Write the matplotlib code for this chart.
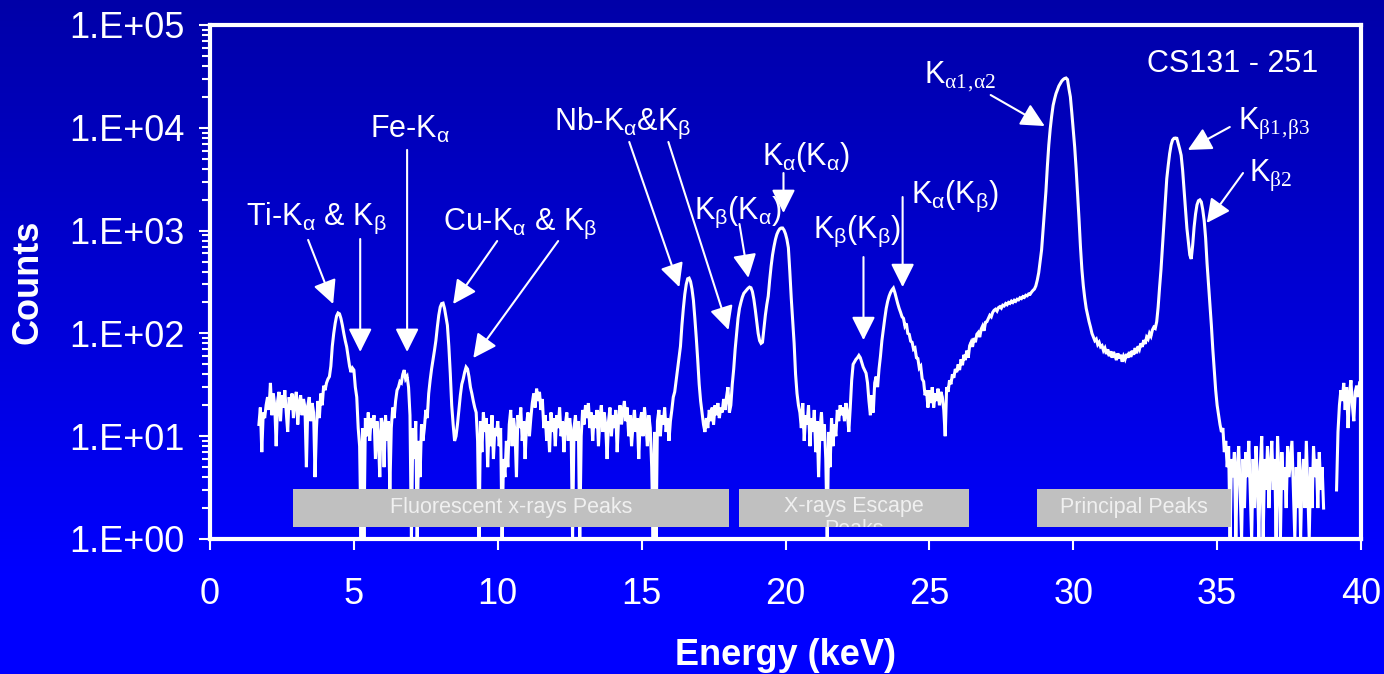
import numpy as np
import matplotlib
matplotlib.use('Agg')
import matplotlib.pyplot as plt
from matplotlib.patches import Rectangle
from matplotlib.ticker import FixedLocator, FuncFormatter, LogLocator, NullFormatter, NullLocator

plt.rcParams['font.family'] = ['Liberation Sans', 'DejaVu Sans']
plt.rcParams['mathtext.fontset'] = 'custom'
plt.rcParams['mathtext.rm'] = 'Liberation Sans'
plt.rcParams['mathtext.sf'] = 'Liberation Serif'
plt.rcParams['mathtext.it'] = 'Liberation Sans:italic'
plt.rcParams['mathtext.bf'] = 'Liberation Sans:bold'

nan = np.nan

# ---------------- data ----------------
energy_start = 1.70   # keV
energy_step = 0.05    # keV per channel
counts = [
    13, 19, 7, 17, 15, 20,                                                                    # 1.70-1.95
    24, 18, 33, 16, 26, 20, 8, 22, 27, 14, 25, 19, 28, 17, 11, 24, 18, 26, 15, 22,             # 2
    27, 13, 21, 25, 16, 23, 19, 5, 20, 24, 14, 21, 17, 4, 12, 22, 15, 26, 20, 31,              # 3
    28, 33, 36, 38, 48, 75, 100, 125, 148, 158, 155, 140, 120, 100, 85, 74, 60, 48, 42, 46,    # 4
    44, 30, 24, 12, 8, 1, 12, 1, 15, 10, 17, 9, 15, 12, 16, 6, 14, 10, 4, 15,                  # 5
    13, 5, 16, 9, 14, 3, 12, 19, 15, 22, 28, 30, 34, 33, 40, 44, 36, 38, 30, 16,               # 6
    1, 12, 6, 14, 1, 9, 4, 13, 9, 12, 18, 15, 26, 35, 45, 55, 68, 85, 115, 150,               # 7
    180, 195, 197, 175, 145, 120, 75, 41, 20, 13, 9, 10, 13, 18, 25, 32, 36, 42, 47, 45,       # 8
    38, 30, 26, 22, 19, 17, 9, 1, 14, 7, 17, 11, 15, 5, 13, 8, 16, 6, 12, 10,                  # 9
    14, 8, 12, 1, 6, 4, 9, 5, 13, 18, 8, 15, 11, 4, 16, 12, 19, 9, 14, 6,                      # 10
    13, 17, 10, 15, 21, 26, 19, 29, 22, 27, 18, 23, 12, 16, 9, 14, 7, 17, 11, 15,              # 11
    8, 16, 12, 19, 10, 14, 7, 13, 17, 9, 15, 11, 1, 12, 16, 9, 14, 1, 10, 18,                  # 12
    13, 20, 15, 21, 12, 17, 9, 16, 12, 18, 8, 15, 20, 11, 17, 13, 6, 14, 19, 10,               # 13
    16, 12, 18, 7, 15, 20, 13, 17, 22, 14, 19, 10, 16, 8, 13, 18, 11, 15, 6, 14,               # 14
    17, 10, 19, 13, 8, 16, 12, 5, 1, 11, 1, 14, 18, 10, 16, 13, 19, 11, 15, 9,                 # 15
    14, 18, 24, 27, 35, 45, 58, 75, 120, 175, 240, 300, 340, 345, 320, 270, 210, 140, 90, 55,  # 16
    32, 22, 17, 13, 11, 15, 12, 18, 14, 19, 13, 20, 16, 21, 15, 19, 17, 23, 18, 24,            # 17
    30, 17, 20, 32, 45, 70, 100, 140, 175, 200, 225, 245, 255, 265, 275, 282, 278, 255, 215, 170,  # 18
    130, 100, 85, 80, 82, 110, 150, 190, 230, 330, 450, 580, 700, 820, 920, 990, 1040, 1060, 1060, 1010,  # 19
    930, 820, 680, 400, 220, 130, 80, 40, 26, 20, 17, 12, 21, 9, 16, 13, 20, 8, 15, 11,        # 20
    18, 7, 14, 4, 12, 17, 9, 13, 6, 1, 11, 5, 15, 8, 13, 10, 18, 14, 20, 16,                   # 21
    19, 14, 21, 17, 11, 19, 35, 50, 53, 56, 58, 61, 58, 52, 47, 44, 41, 33, 22, 16,            # 22
    25, 17, 33, 38, 30, 45, 60, 85, 110, 140, 175, 205, 230, 250, 265, 276, 250, 220, 195, 175,  # 23
    160, 145, 140, 118, 125, 100, 98, 84, 82, 70, 72, 58, 57, 46, 48, 36, 34, 25, 28, 19,      # 24
    28, 21, 30, 19, 26, 22, 29, 20, 27, 24, 18, 10, 30, 27, 35, 32, 40, 37, 45, 42,            # 25
    50, 44, 56, 49, 62, 55, 68, 58, 76, 82, 74, 90, 82, 98, 102, 92, 110, 118, 106, 128,       # 26
    130, 140, 150, 145, 160, 168, 172, 165, 178, 182, 176, 188, 185, 195, 190, 200, 196, 206, 200, 210,  # 27
    205, 215, 212, 222, 218, 228, 224, 235, 232, 242, 240, 252, 262, 270, 290, 330, 390, 500, 650, 1000,  # 28
    1500, 2400, 4200, 6800, 9800, 13000, 16500, 19000, 21500, 23500, 25500, 27000, 28500, 29500, 30200, 30500, 29500, 24000, 20000, 14000,  # 29
    9500, 6500, 4000, 2300, 1300, 700, 420, 290, 220, 175, 150, 130, 115, 100, 92, 85, 88, 78, 82, 74,  # 30
    76, 68, 72, 63, 70, 60, 67, 58, 66, 61, 55, 64, 57, 62, 53, 60, 56, 63, 58, 66,            # 31
    59, 68, 62, 72, 64, 75, 70, 80, 74, 86, 79, 92, 88, 100, 94, 108, 115, 112, 130, 180,      # 32
    280, 420, 700, 1150, 2000, 3200, 4300, 5600, 6800, 7600, 7900, 7950, 7900, 7000, 6200, 5400, 3900, 2500, 1600, 1050,  # 33
    780, 580, 530, 720, 1080, 1450, 1780, 1950, 1990, 1900, 1600, 1250, 850, 480, 300, 190, 120, 70, 45, 28,  # 34
    20, 16, 13, 11, 12, 7, 9, 5, 8, 1, 6, 4, 7, 1, 5, 8, 3, 1, 6, 2,                           # 35
    7, 4, 9, 3, 1, 6, 2, 8, 4, 1, 5, 10, 1, 6, 3, 8, 2, 5, 9, 3,                               # 36
    6, 1, 10, 4, 1, 7, 3, 5, 2, 8, 4, 6, 9, 3, 1, 5, 2, 7, 1, 4,                               # 37
    6, 2, 9, 3, 1, 5, 2, 8, 4, 6, 2, 7, 3, 5, 2, nan, nan, nan, nan, nan,                      # 38
    nan, nan, nan, 3, 11, 20, 28, 22, 33, 18, 30, 12, 26, 35, 20, 14, 27, 31, 24, 33,          # 39
]
energy = energy_start + energy_step * np.arange(len(counts))

region_names = ['Fluorescent x-rays Peaks', 'X-rays Escape\nPeaks', 'Principal Peaks']
region_ranges = [(2.89, 18.05), (18.37, 26.37), (28.73, 35.48)]
region_text_y = [1.79, 1.09, 1.79]   # baseline of the last text line

# label text, text anchor (E, counts), list of arrows (tail E, tail c, tip E, tip c)
peak_labels = [
    (r'Ti-K$_{\mathrm{α}}$ & K$_{\mathrm{β}}$', (1.25, 1133),
     [(3.41, 811, 4.28, 193), (5.22, 829, 5.22, 66)]),
    (r'Fe-K$_{\mathrm{α}}$', (5.57, 7960), [(6.85, 6090, 6.85, 66)]),
    (r'Cu-K$_{\mathrm{α}}$ & K$_{\mathrm{β}}$', (8.10, 1013),
     [(9.98, 792, 8.45, 193), (12.10, 792, 9.15, 57.6)]),
    (r'Nb-K$_{\mathrm{α}}$&K$_{\mathrm{β}}$', (11.97, 9520),
     [(14.57, 7280, 16.31, 282), (15.93, 7280, 18.02, 108)]),
    (r'K$_{\mathrm{β}}$(K$_{\mathrm{α}}$)', (16.83, 1297), [(18.40, 1159, 18.71, 347)]),
    (r'K$_{\mathrm{α}}$(K$_{\mathrm{α}}$)', (19.17, 4345), [(19.93, 3632, 19.93, 1483)]),
    (r'K$_{\mathrm{β}}$(K$_{\mathrm{β}}$)', (20.94, 847), [(22.71, 553, 22.71, 86)]),
    (r'K$_{\mathrm{α}}$(K$_{\mathrm{β}}$)', (24.35, 1855), [(24.07, 2122, 24.07, 282)]),
    (r'K$_{\mathsf{α1‚α2}}$', (24.80, 27900), [(27.13, 20840, 29.01, 10400)]),
    (r'K$_{\mathsf{β1‚β3}}$', (35.72, 9520), [(35.44, 10180, 33.98, 6090)]),
    (r'K$_{\mathsf{β2}}$', (36.10, 2970), [(35.90, 3632, 34.64, 1186)]),
]
sample_name = 'CS131 - 251'

# ---------------- figure ----------------
W, H = 1384, 674
fig = plt.figure(figsize=(W / 100, H / 100), dpi=100)

# blue vertical gradient background
bg = fig.add_axes([0, 0, 1, 1], zorder=-10)
t = np.linspace(0, 1, 256)[:, None]
blue = np.clip(168 + (255 - 168) * t / 0.85, 0, 255) / 255.0
grad = np.zeros((256, 2, 3))
grad[:, :, 2] = blue
bg.imshow(grad, aspect='auto', extent=[0, 1, 0, 1], origin='upper')
bg.set_axis_off()

ax = fig.add_axes([210 / W, (H - 539) / H, 1151 / W, 514 / H])
ax.set_facecolor('none')
ax.plot(energy, counts, color='white', lw=2.2, zorder=2, solid_joinstyle='miter')
ax.set_yscale('log')
ax.set_xlim(0, 40)
ax.set_ylim(1, 1e5)

for s in ax.spines.values():
    s.set_color('white')
    s.set_linewidth(3)

ax.set_xticks(np.arange(0, 41, 5))
ax.xaxis.set_minor_locator(NullLocator())
ax.yaxis.set_major_locator(FixedLocator([1e0, 1e1, 1e2, 1e3, 1e4, 1e5]))
ax.yaxis.set_minor_locator(LogLocator(base=10, subs=np.arange(2, 10)))
ax.yaxis.set_minor_formatter(NullFormatter())
ax.yaxis.set_major_formatter(FuncFormatter(lambda v, p: '1.E+%02d' % int(round(np.log10(v)))))
ax.tick_params(axis='both', which='both', direction='out', colors='white', labelsize=26)
ax.tick_params(axis='y', which='major', length=8, width=1.5, pad=10)
ax.tick_params(axis='y', which='minor', length=5.5, width=1.5)
ax.tick_params(axis='x', which='major', length=8, width=1.5, pad=19)

ax.set_xlabel('Energy (keV)', fontsize=26, fontweight='bold', color='white', va='center')
ax.xaxis.set_label_coords(0.5, -0.226)
ax.set_ylabel('Counts', fontsize=26, fontweight='bold', color='white', va='center')
ax.yaxis.set_label_coords(-0.158, 0.5)

# gray region boxes
for name, (x0, x1), ty in zip(region_names, region_ranges, region_text_y):
    rect = Rectangle((x0, 1.31), x1 - x0, 3.06 - 1.31, facecolor='#C0C0C0',
                     edgecolor='none', zorder=3)
    ax.add_patch(rect)
    txt = ax.text((x0 + x1) / 2, ty, name, ha='center', va='baseline',
                  fontsize=15.5, color='#F0F0F0', zorder=4, linespacing=1.15)
    txt.set_clip_on(True)
    txt.set_clip_path(rect)

# peak labels and arrows
for label, (tx, ty), arrows in peak_labels:
    ax.text(tx, ty, label, ha='left', va='baseline', fontsize=22, color='white', zorder=5)
    for (ax0, ay0, ax1, ay1) in arrows:
        ax.annotate('', xy=(ax1, ay1), xytext=(ax0, ay0),
                    arrowprops=dict(arrowstyle='-|>,head_length=0.8,head_width=0.4',
                                    color='white', lw=1.5, mutation_scale=18,
                                    shrinkA=0, shrinkB=0), zorder=5)

ax.text(35.55, 34900, sample_name, ha='center', va='baseline', fontsize=22,
        color='white', zorder=5)

fig.savefig('out.png', dpi=100)
